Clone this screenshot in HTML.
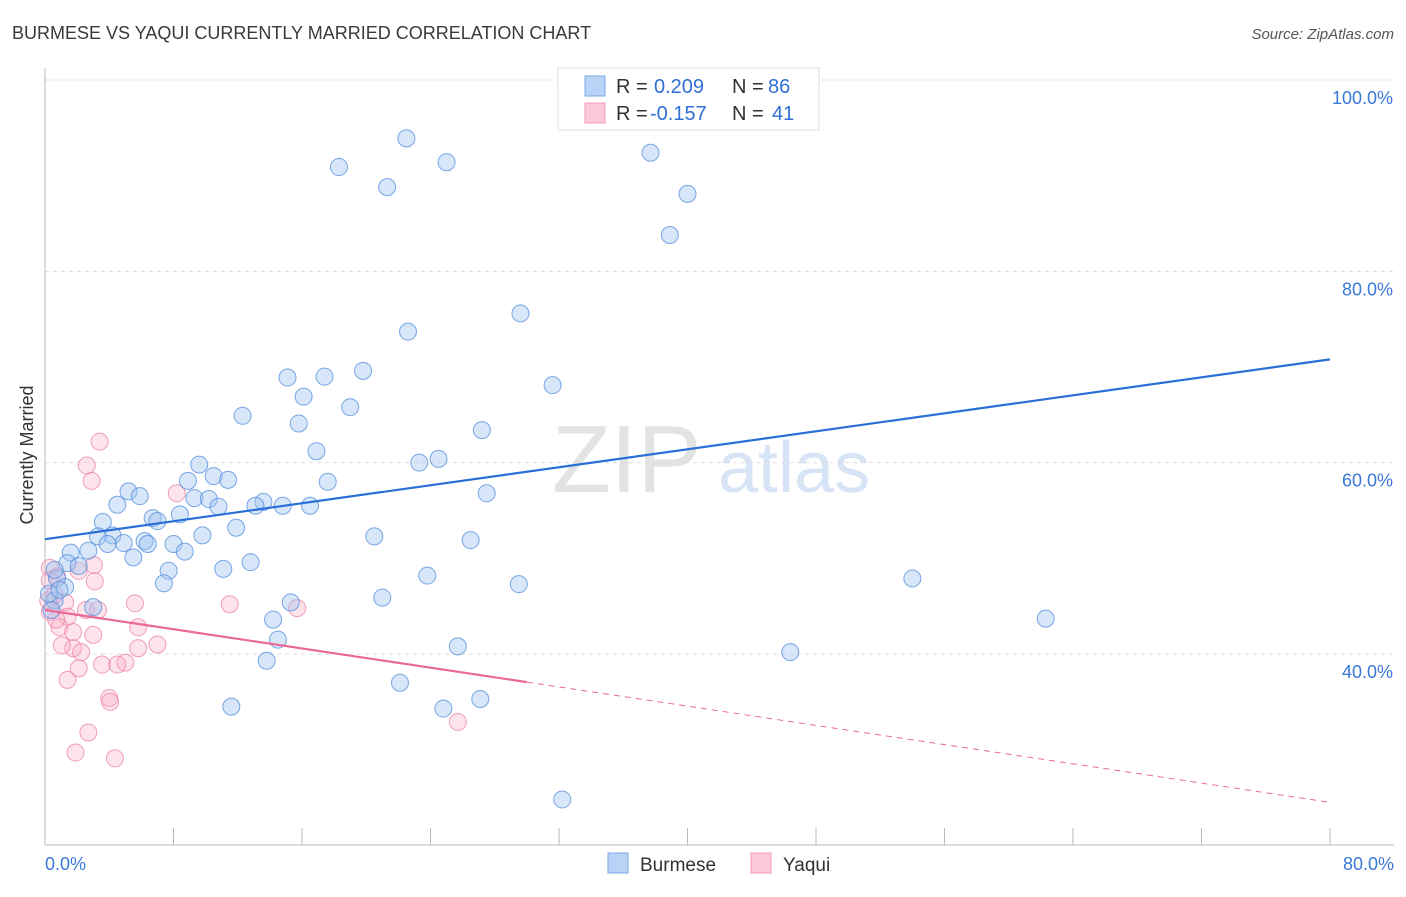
<!DOCTYPE html>
<html><head><meta charset="utf-8"><style>
body{margin:0;background:#fff;font-family:"Liberation Sans",sans-serif}
svg text{font-family:"Liberation Sans",sans-serif}
</style></head><body>
<svg id="chart" width="1406" height="892" viewBox="0 0 1406 892">
<text x="12" y="39" font-size="18" fill="#3a3a3a">BURMESE VS YAQUI CURRENTLY MARRIED CORRELATION CHART</text>
<text x="1394" y="39" font-size="15" fill="#555" font-style="italic" text-anchor="end">Source: ZipAtlas.com</text>
<g>
<text x="552" y="492" font-size="96" font-family="Liberation Serif,serif" fill="#e3e3e3">ZIP</text>
<text x="718" y="492" font-size="72" fill="#d6e4f5">atlas</text>
</g>
<g id="grid"></g>
<g id="axes"></g>
<g id="points"></g>
<g id="lines"></g>
<text transform="translate(33,455) rotate(-90)" font-size="18" fill="#333" text-anchor="middle">Currently Married</text>
<g>
<rect x="558" y="68" width="261" height="62" fill="#fff" stroke="#ddd"/>
<rect x="585" y="76" width="20" height="20" fill="#b8d3f5" stroke="#7aa8e6"/>
<text x="616" y="93" font-size="20" fill="#333">R =</text>
<text x="654" y="93" font-size="20" fill="#2f6fd6">0.209</text>
<text x="732" y="93" font-size="20" fill="#333">N =</text>
<text x="768" y="93" font-size="20" fill="#2f6fd6">86</text>
<rect x="585" y="103" width="20" height="20" fill="#fbc9d7" stroke="#f09ab4"/>
<text x="616" y="120" font-size="20" fill="#333">R =</text>
<text x="650" y="120" font-size="20" fill="#2f6fd6">-0.157</text>
<text x="732" y="120" font-size="20" fill="#333">N =</text>
<text x="772" y="120" font-size="20" fill="#2f6fd6">41</text>
</g>
<g>
<rect x="608" y="853" width="20" height="20" fill="#b8d3f5" stroke="#7aa8e6"/>
<text x="640" y="871" font-size="19" fill="#333">Burmese</text>
<rect x="751" y="853" width="20" height="20" fill="#fbc9d7" stroke="#f09ab4"/>
<text x="783" y="871" font-size="19" fill="#333">Yaqui</text>
</g>
</svg>
<script>
const burmeseX=[22.5,18.3,25.0,21.3,37.7,40.0,38.9,29.6,22.6,15.1,17.4,19.8,31.6,16.1,19.0,12.3,15.8,27.2,16.9,24.5,23.3,9.6,8.9,10.5,11.4,17.6,27.5,5.2,5.9,9.3,10.2,13.6,13.1,14.8,16.5,10.8,4.5,8.4,6.7,7.0,3.6,11.9,4.2,3.3,9.8,20.5,26.5,6.2,6.4,4.9,3.9,8.0,2.7,1.6,8.7,5.5,12.8,1.4,2.1,7.7,11.1,23.8,54.0,0.75,7.4,1.25,29.5,21.0,0.6,0.25,15.3,3.0,62.3,14.2,14.5,25.7,46.4,13.8,22.1,27.1,24.8,11.6,32.2,0.4,0.9,0.6];
const burmeseY=[93.9,90.9,91.4,88.8,92.4,88.1,83.8,75.6,73.7,68.9,69.0,69.6,68.1,66.9,65.8,64.9,64.1,63.4,61.2,60.4,60.0,59.8,58.1,58.6,58.2,58.0,56.8,57.0,56.5,56.3,56.2,55.9,55.5,55.5,55.5,55.4,55.6,54.6,54.2,53.9,53.8,53.2,52.4,52.3,52.4,52.3,51.9,51.8,51.5,51.6,51.5,51.5,50.8,50.6,50.7,50.1,49.6,49.5,49.2,48.7,48.9,48.2,47.9,47.9,47.4,47.0,47.3,45.9,45.6,46.3,45.4,44.9,43.7,43.6,41.5,40.8,40.2,39.3,37.0,35.3,34.3,34.5,24.8,44.6,46.7,48.8];
const yaquiX=[3.4,2.6,2.9,8.2,0.3,0.75,2.1,3.1,3.05,1.25,0.3,0.6,2.55,3.3,5.6,11.5,15.7,1.4,0.9,1.75,3.0,5.8,1.75,1.05,2.25,7.0,5.8,5.0,3.55,4.5,2.1,1.4,4.0,4.05,2.7,1.9,4.35,25.7,0.3,0.2,0.7];
const yaquiY=[62.2,59.7,58.1,56.8,49.0,48.1,48.7,47.6,49.3,45.4,44.4,46.2,44.6,44.6,45.3,45.2,44.8,43.9,42.8,42.3,42.0,42.8,40.6,40.9,40.2,41.0,40.6,39.1,38.9,38.9,38.5,37.3,35.4,35.0,31.8,29.7,29.1,32.9,47.7,45.6,43.6];
const burmeseTrend=[52.0,70.8];
const yaquiTrend=[44.6,24.5];
const yaquiSolidEnd=30;
const yTicks=[40,60,80,100];
const xTickVals=[0,8,16,24,32,40,48,56,64,72,80];
const xLabels=["0.0%","80.0%"];
const NS="http://www.w3.org/2000/svg";
const sx=v=>45+v*16.0625;
const sy=v=>80+(100-v)*9.567;
function mk(tag,attrs,parent){const e=document.createElementNS(NS,tag);for(const k in attrs)e.setAttribute(k,attrs[k]);parent.appendChild(e);return e;}
const grid=document.getElementById('grid'),axes=document.getElementById('axes'),pts=document.getElementById('points'),lines=document.getElementById('lines');
yTicks.forEach(t=>{
 const l=mk('line',{x1:45,x2:1394,y1:sy(t),y2:sy(t),stroke:'#ddd','stroke-dasharray':'4,4'},grid);
 
 
 const tx=mk('text',{x:1393,y:sy(t)+24,'font-size':18,fill:'#3a78d8','text-anchor':'end'},axes);
 tx.textContent=t.toFixed(1)+'%';
 
 
});
const ya=mk('line',{x1:45,x2:45,y1:68,y2:845,stroke:'#bbb'},axes);


const xa=mk('line',{x1:45,x2:1394,y1:845,y2:845,stroke:'#bbb'},axes);


xTickVals.forEach(t=>{
 const l=mk('line',{x1:sx(t),x2:sx(t),y1:828,y2:845,stroke:'#bbb'},axes);
 
 
});
const xl0=mk('text',{x:45,y:870,'font-size':18,fill:'#3a78d8'},axes);
xl0.textContent=xLabels[0];


const xl1=mk('text',{x:1394,y:870,'font-size':18,fill:'#3a78d8','text-anchor':'end'},axes);
xl1.textContent=xLabels[1];


yaquiX.forEach((x,i)=>{
 const c=mk('circle',{cx:sx(x),cy:sy(yaquiY[i]),r:8.5,fill:'rgba(248,175,198,0.35)',stroke:'rgba(236,130,165,0.75)','stroke-width':1},pts);
 
 
});
burmeseX.forEach((x,i)=>{
 const c=mk('circle',{cx:sx(x),cy:sy(burmeseY[i]),r:8.5,fill:'rgba(160,196,240,0.42)',stroke:'rgba(80,140,220,0.75)','stroke-width':1},pts);
 
 
});
const bl=mk('line',{x1:sx(0),y1:sy(burmeseTrend[0]),x2:sx(80),y2:sy(burmeseTrend[1]),stroke:'#2a6fd6','stroke-width':2.2},lines);


const ym=yaquiTrend[0]+(yaquiTrend[1]-yaquiTrend[0])*yaquiSolidEnd/80;
const pl=mk('line',{x1:sx(0),y1:sy(yaquiTrend[0]),x2:sx(yaquiSolidEnd),y2:sy(ym),stroke:'#ea6a94','stroke-width':2.2},lines);


const pd=mk('line',{x1:sx(yaquiSolidEnd),y1:sy(ym),x2:sx(80),y2:sy(yaquiTrend[1]),stroke:'#ea6a94','stroke-width':1,'stroke-dasharray':'6,5'},lines);


</script>
</body></html>
